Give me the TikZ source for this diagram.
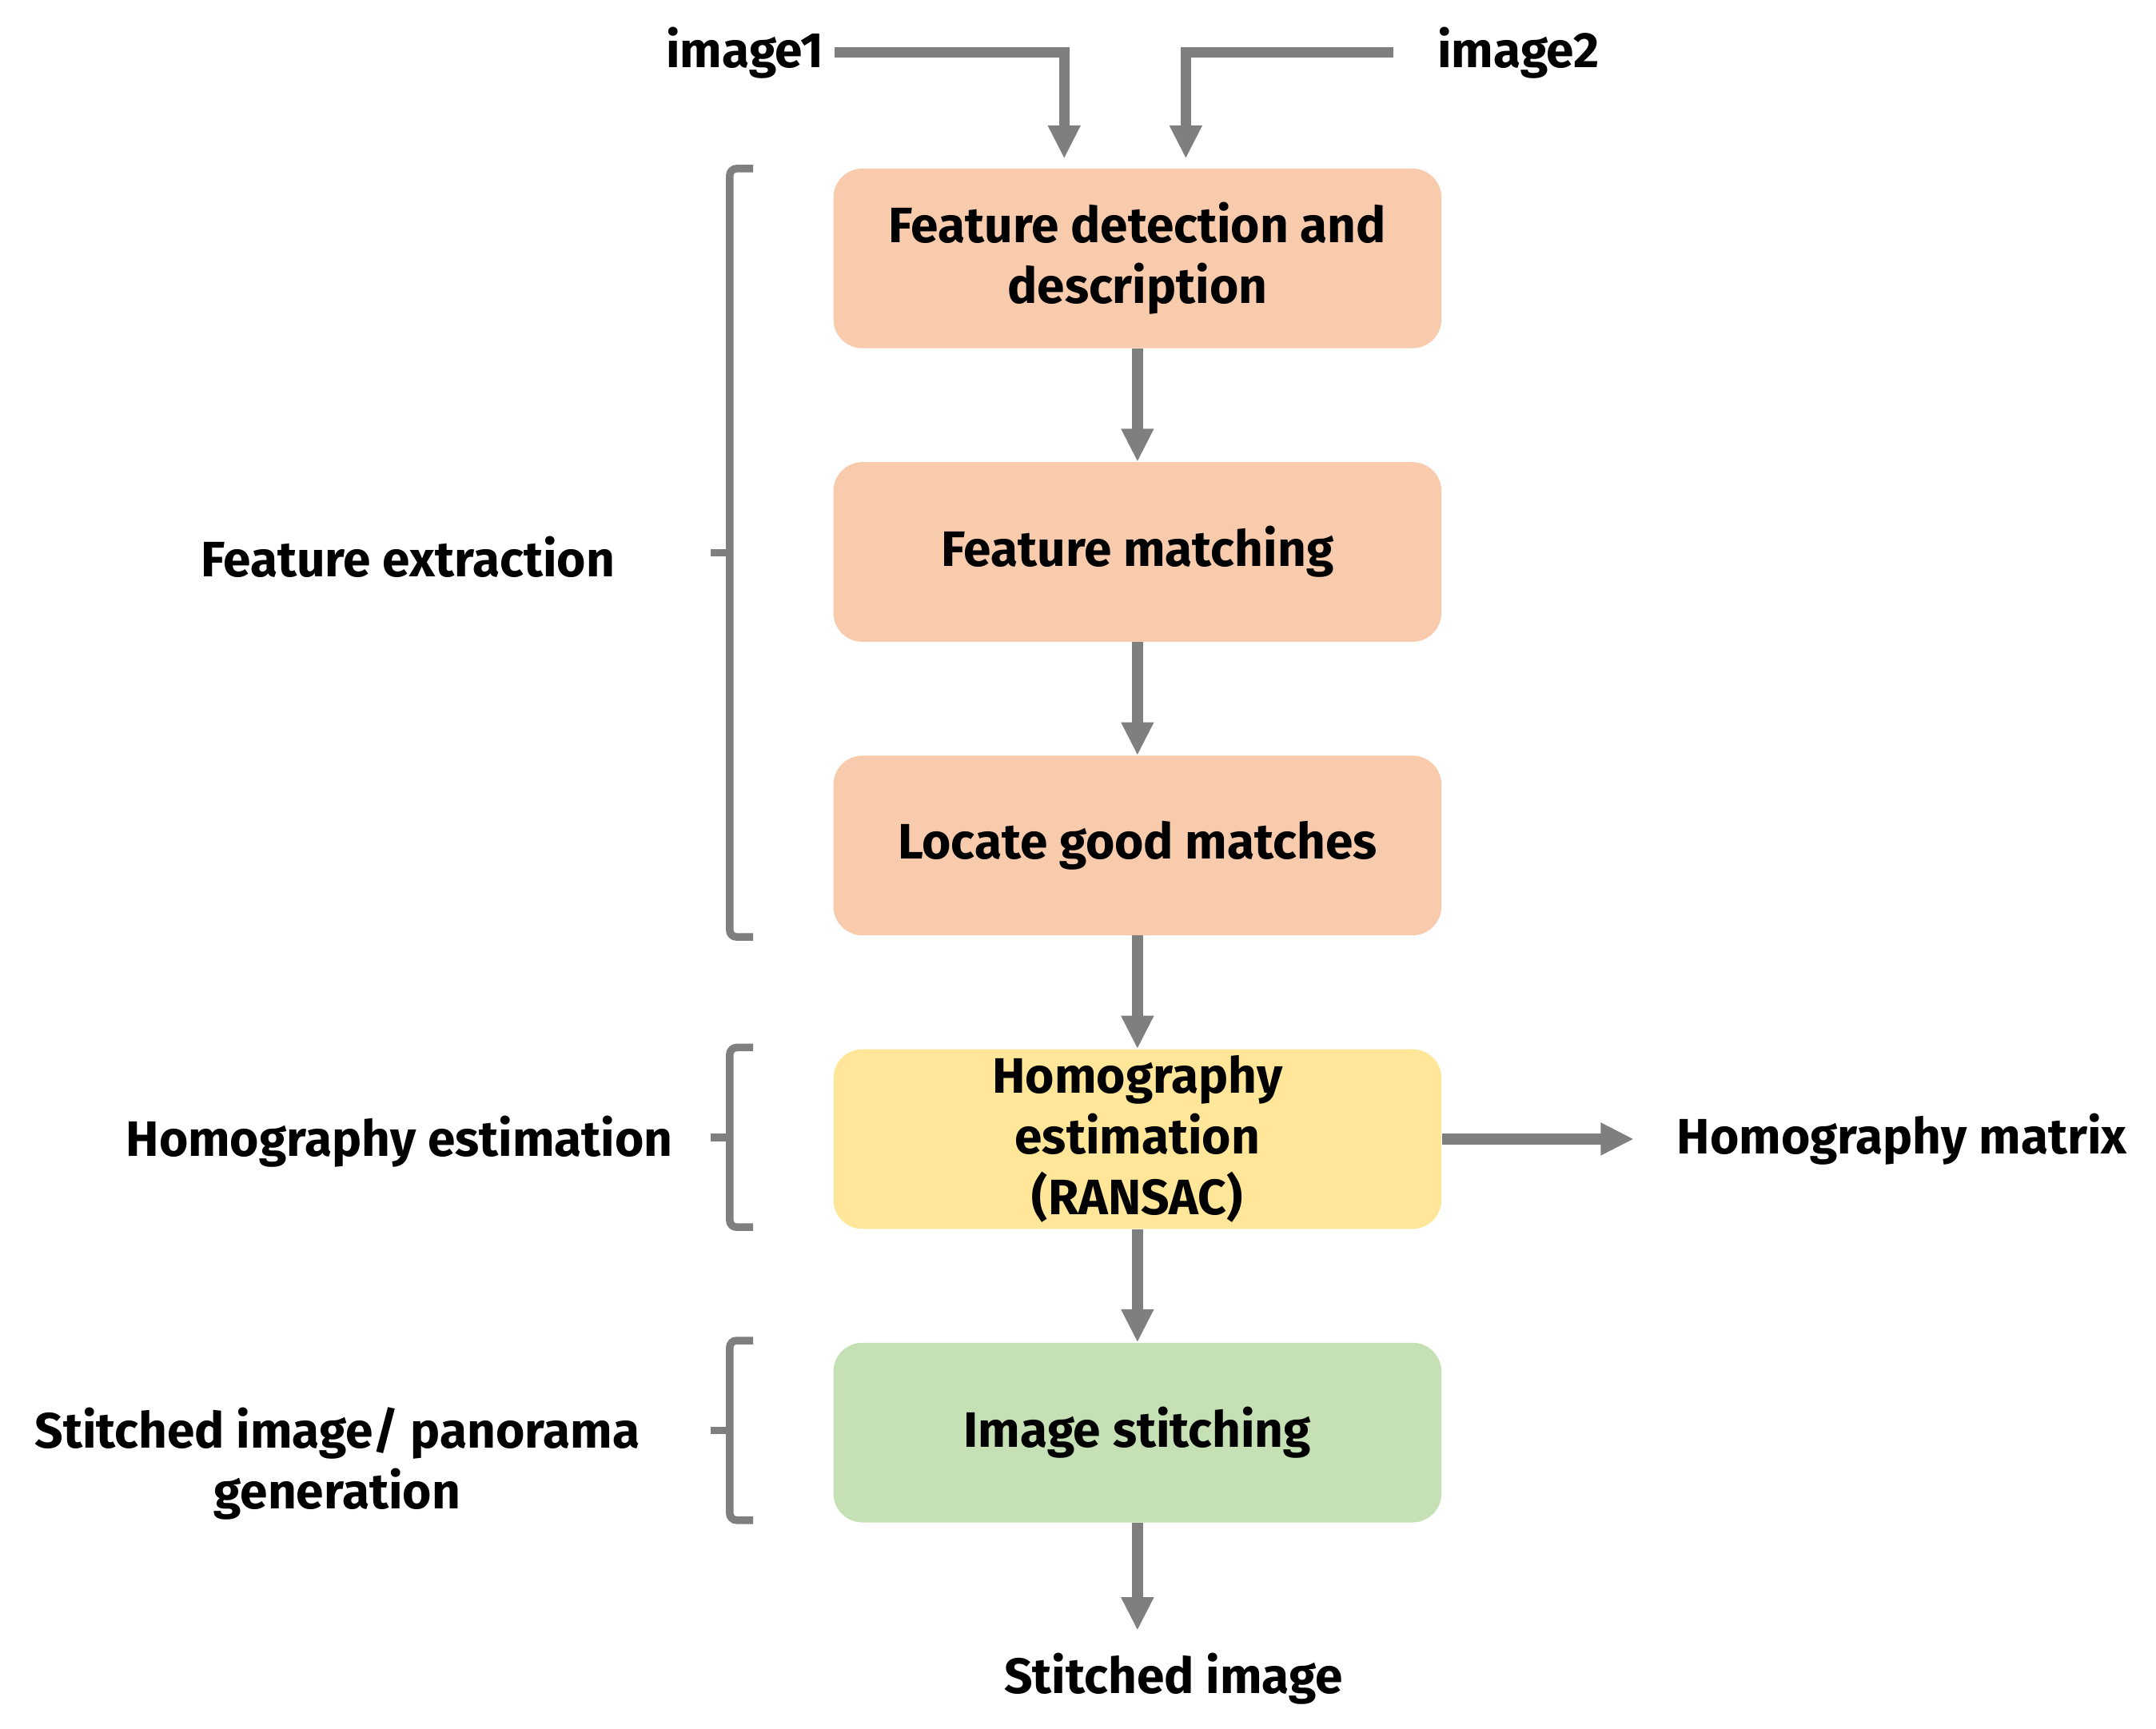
\documentclass[tikz,border=0pt]{standalone}
\usepackage{fontspec}
\usepackage{tikz}
\usetikzlibrary{positioning,arrows.meta}
\setmainfont{Fira Sans}
\definecolor{peach}{HTML}{F8CBAD}
\definecolor{butter}{HTML}{FFE699}
\definecolor{sage}{HTML}{C5E0B4}
\definecolor{arrowgray}{HTML}{7F7F7F}
\tikzset{
    diagram-text/.style = {font=\bfseries\fontsize{36bp}{44bp}\selectfont, text=black, align=center},
    step-box/.style = {diagram-text, rectangle, rounded corners=21bp, minimum width=440bp, minimum height=130bp, inner sep=0pt},
    flow-arrow/.style = {draw=arrowgray, line width=7.7bp, -{Triangle[length=24bp, width=22bp]}},
    group-brace/.style = {draw=arrowgray, line width=5.5bp, rounded corners=5bp},
    side-label/.style = {diagram-text, inner sep=0pt},
}

\begin{document}
\begin{tikzpicture}[x=1bp, y=-1bp]
\useasboundingbox (0,0) rectangle (1560,1251);
\node [step-box, fill=peach] (detect) at (823,187) {Feature detection and\\description};
\node [step-box, fill=peach, below=82bp of detect] (match) {Feature matching};
\node [step-box, fill=peach, below=82bp of match] (locate) {Locate good matches};
\node [step-box, fill=butter, below=82bp of locate] (homog) {Homography\\estimation\\(RANSAC)};
\node [step-box, fill=sage, below=82bp of homog] (stitch) {Image stitching};

% inputs
\node [side-label, anchor=east] (img1) at (596,38) {image1};
\node [side-label, anchor=west] (img2) at (1040,38) {image2};
\coordinate (in1) at ([xshift=-53bp, yshift=7bp]detect.north);
\coordinate (in2) at ([xshift=35bp, yshift=7bp]detect.north);
\draw [flow-arrow] ([xshift=8bp]img1.east) -| (in1);
\draw [flow-arrow] ([xshift=-32bp]img2.west) -| (in2);

% main flow
\draw [flow-arrow] (detect) -- (match);
\draw [flow-arrow] (match) -- (locate);
\draw [flow-arrow] (locate) -- (homog);
\draw [flow-arrow] (homog) -- (stitch);

% outputs
\coordinate (hout) at ([xshift=139bp]homog.east);
\coordinate (sout) at ([yshift=-78bp]stitch.south);
\draw [flow-arrow] (homog.east) -- (hout);
\draw [flow-arrow] (stitch.south) -- (sout);
\node [side-label, right=31bp of hout] (matrix) {Homography matrix};
\node [side-label] (result) at (849,1215) {Stitched image};

% stage brackets
\draw [group-brace] (545,122) -- (528,122) -- (528,678) -- (545,678);
\draw [group-brace, rounded corners=0pt] (514,400) -- (530,400);
\draw [group-brace] (545,758) -- (528,758) -- (528,888) -- (545,888);
\draw [group-brace, rounded corners=0pt] (514,823) -- (530,823);
\draw [group-brace] (545,970) -- (528,970) -- (528,1100) -- (545,1100);
\draw [group-brace, rounded corners=0pt] (514,1035) -- (530,1035);
\node [side-label] (extract) at (295,403) {Feature extraction};
\node [side-label] (estimate) at (289,826) {Homography estimation};
\node [side-label] (panorama) at (244,1059) {Stitched image/ panorama\\generation};
\end{tikzpicture}
\end{document}
